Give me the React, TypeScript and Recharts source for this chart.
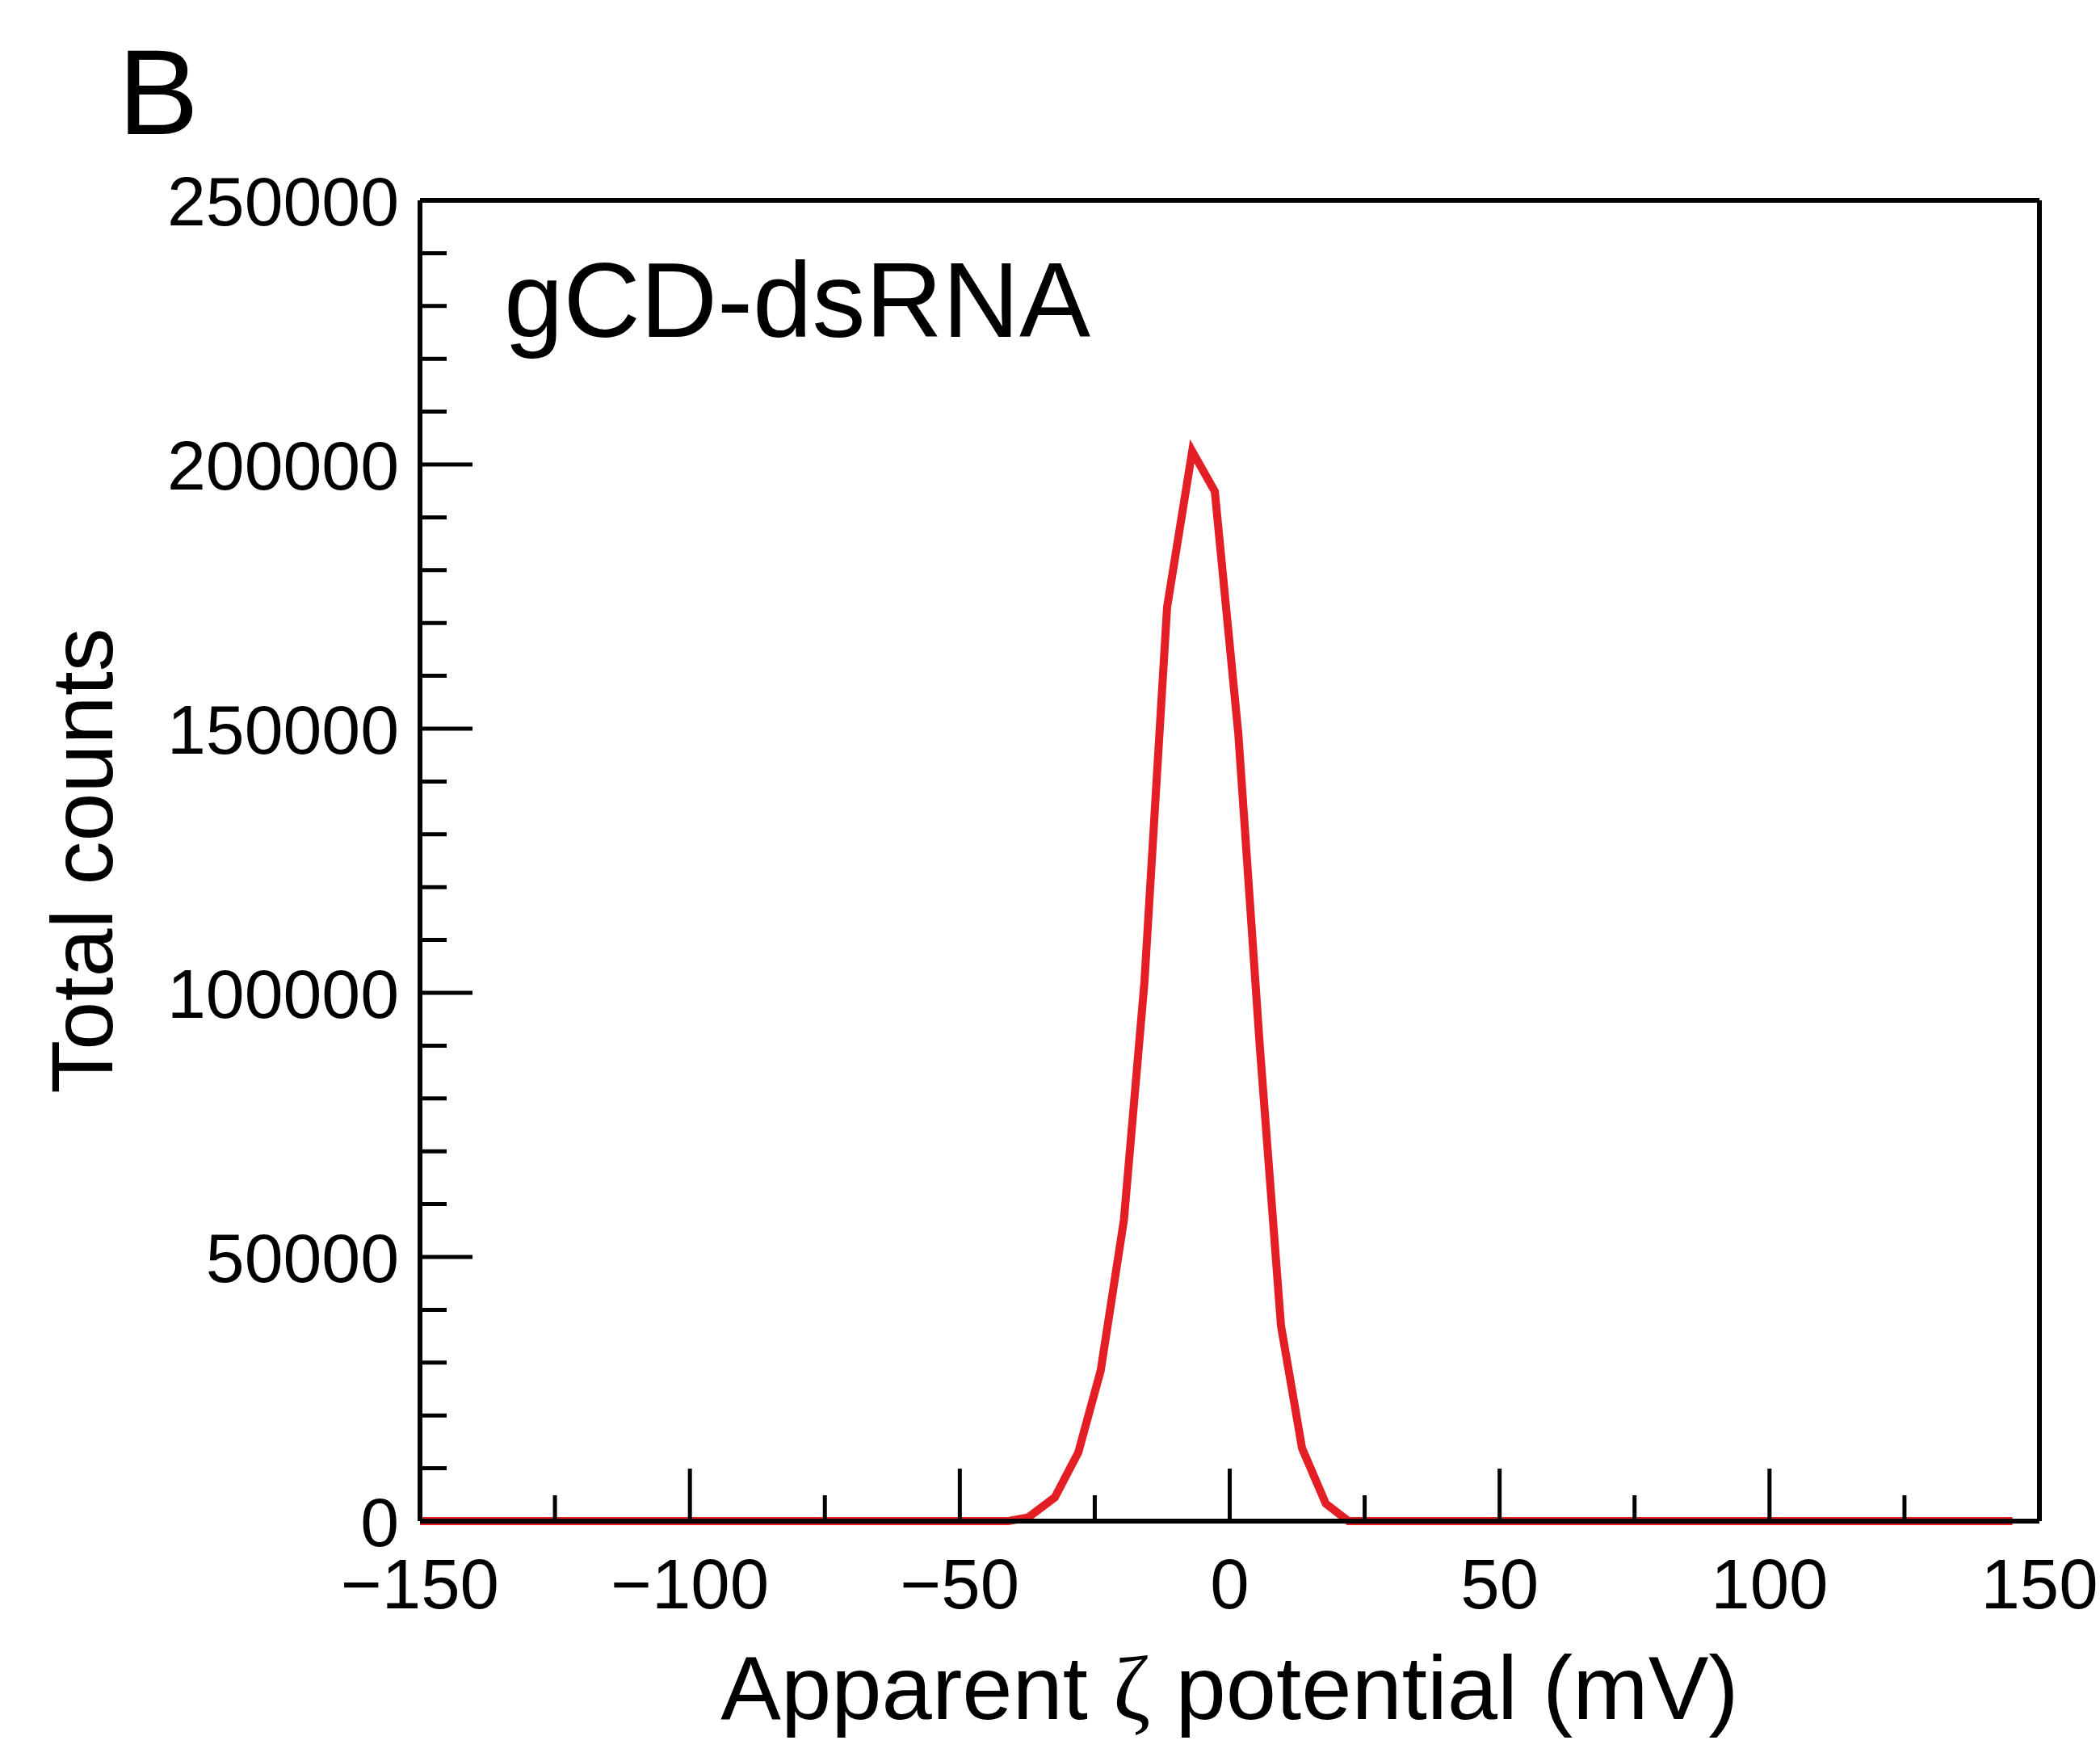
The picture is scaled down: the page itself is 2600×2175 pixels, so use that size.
import { LineChart, Line, XAxis, YAxis, ReferenceLine } from 'recharts'

// zeta potential (mV) and total counts
const zeta = [-150, -41, -37.3, -32.4, -28.05, -23.9, -19.6, -15.8, -11.6, -6.95, -2.76, 1.6, 5.6, 9.5, 13.4, 17.8, 22, 145]
const counts = [0, 0, 720, 4500, 13000, 28500, 57000, 102000, 173000, 202500, 194900, 149000, 89500, 37000, 13800, 3300, 0, 0]

const xTicks = [-150, -125, -100, -75, -50, -25, 0, 25, 50, 75, 100, 125, 150]
const yTicks = [
  0, 10000, 20000, 30000, 40000, 50000, 60000, 70000, 80000, 90000, 100000, 110000, 120000,
  130000, 140000, 150000, 160000, 170000, 180000, 190000, 200000, 210000, 220000, 230000,
  240000, 250000,
]

const data = zeta.map((z, i) => ({ zeta: z, counts: counts[i] }))

const FONT = '"Liberation Sans", Arial, sans-serif'
const AXIS_W = 6

const XTick = ({ x, y, payload }: any) => {
  const v = payload.value
  const major = v % 50 === 0
  const label = v < 0 ? `\u2212${Math.abs(v)}` : `${v}`
  return (
    <g>
      <line x1={x} x2={x} y1={y} y2={y - (major ? 65 : 32)} stroke="#000" strokeWidth={5} />
      {major && (
        <text x={x} y={y + 108} textAnchor="middle" fontSize={87} fontFamily={FONT} fill="#000">
          {label}
        </text>
      )}
    </g>
  )
}

const YTick = ({ x, y, payload }: any) => {
  const v = payload.value
  const major = v % 50000 === 0
  return (
    <g>
      <line x1={x} x2={x + (major ? 65 : 33)} y1={y} y2={y} stroke="#000" strokeWidth={5} />
      {major && (
        <text x={x - 26} y={y + 31} textAnchor="end" fontSize={86} fontFamily={FONT} fill="#000">
          {v}
        </text>
      )}
    </g>
  )
}

const XLabel = ({ viewBox }: any) => {
  const vb = viewBox || { x: 520, y: 1883, width: 2005, height: 292 }
  return (
    <text x={vb.x + vb.width / 2} y={vb.y + 245} textAnchor="middle" fontSize={112} fontFamily={FONT} fill="#000">
      Apparent <tspan fontFamily='"Liberation Serif", serif'>ζ</tspan> potential (mV)
    </text>
  )
}

const YLabel = ({ viewBox }: any) => {
  const vb = viewBox || { x: 0, y: 248, width: 520, height: 1635 }
  const cx = vb.x + 139
  const cy = vb.y + vb.height / 2
  return (
    <text x={cx} y={cy} transform={`rotate(-90 ${cx} ${cy})`} textAnchor="middle" fontSize={108} fontFamily={FONT} fill="#000">
      Total counts
    </text>
  )
}

export default function App() {
  return (
    <div style={{ position: 'absolute', left: 0, top: 0, width: 2600, height: 2175, background: '#fff' }}>
      <LineChart width={2600} height={2175} data={data} margin={{ top: 248, right: 75, bottom: 0, left: 0 }}>
        <XAxis
          type="number"
          dataKey="zeta"
          domain={[-150, 150]}
          ticks={xTicks}
          interval={0}
          height={292}
          tickSize={0}
          tickMargin={0}
          tick={<XTick />}
          axisLine={{ stroke: '#000', strokeWidth: AXIS_W }}
          label={{ content: <XLabel /> }}
        />
        <YAxis
          type="number"
          domain={[0, 250000]}
          ticks={yTicks}
          interval={0}
          width={520}
          tickSize={0}
          tickMargin={0}
          tick={<YTick />}
          axisLine={{ stroke: '#000', strokeWidth: AXIS_W }}
          label={{ content: <YLabel /> }}
        />
        <ReferenceLine y={250000} stroke="#000" strokeWidth={AXIS_W} />
        <ReferenceLine x={150} stroke="#000" strokeWidth={AXIS_W} />
        <Line
          type="linear"
          dataKey="counts"
          stroke="#e31e24"
          strokeWidth={10}
          dot={false}
          strokeLinejoin="miter"
          isAnimationActive={false}
        />
      </LineChart>
      <span style={{ position: 'absolute', left: 146, top: 39, fontSize: 150, lineHeight: 1, fontFamily: FONT, color: '#000' }}>
        B
      </span>
      <span style={{ position: 'absolute', left: 624, top: 306, fontSize: 132, lineHeight: 1, fontFamily: FONT, color: '#000', whiteSpace: 'nowrap' }}>
        gCD-dsRNA
      </span>
    </div>
  )
}
